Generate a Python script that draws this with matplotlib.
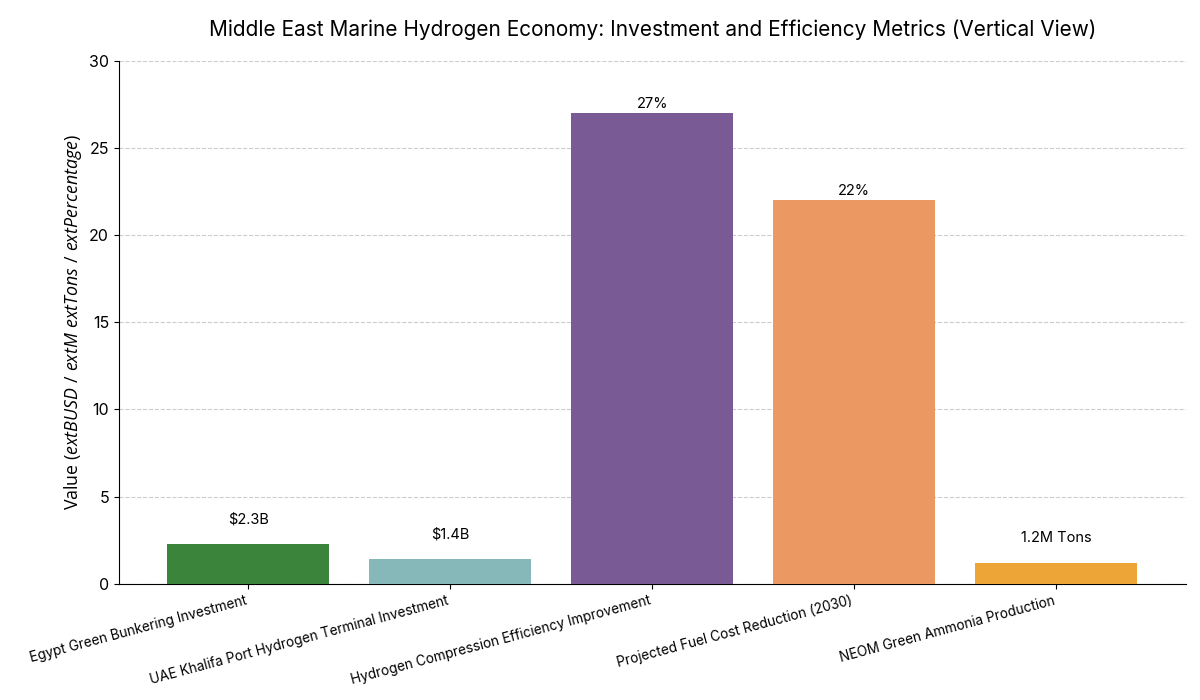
import numpy as np
import matplotlib
matplotlib.use('Agg')
import matplotlib.pyplot as plt

plt.rcParams['font.family'] = ['Inter', 'DejaVu Sans']
plt.rcParams['mathtext.fontset'] = 'custom'
plt.rcParams['mathtext.rm'] = 'Open Sans'
plt.rcParams['mathtext.it'] = 'Open Sans:italic'

categories = ['Egypt Green Bunkering Investment',
              'UAE Khalifa Port Hydrogen Terminal Investment',
              'Hydrogen Compression Efficiency Improvement',
              'Projected Fuel Cost Reduction (2030)',
              'NEOM Green Ammonia Production']
values = [2.3, 1.4, 27, 22, 1.2]
value_labels = ['$2.3B', '$1.4B', '27%', '22%', '1.2M Tons']
label_offsets = [1.0, 1.0, 0.15, 0.15, 1.0]
colors = ['#3a853b', '#86b8ba', '#7a5a94', '#ec9862', '#eca536']

fig, ax = plt.subplots(figsize=(12, 7), dpi=100)
x = np.arange(len(categories))
bars = ax.bar(x, values, width=0.8, color=colors, zorder=3)

for b, lab, off in zip(bars, value_labels, label_offsets):
    ax.text(b.get_x() + b.get_width() / 2, b.get_height() + off, lab.replace('$', r'\$'),
            ha='center', va='bottom', fontsize=10.5)

ax.set_xticks(x)
ax.set_xticklabels(categories, rotation=15, ha='right', fontsize=9.8)
ax.set_ylim(0, 30)
ax.tick_params(axis='y', labelsize=11.5)
ax.set_ylabel(r'Value ($extBUSD\ /\ extM\ extTons\ /\ extPercentage$)',
              fontsize=12.8, family=['Open Sans', 'DejaVu Sans'])
ax.set_title('Middle East Marine Hydrogen Economy: Investment and Efficiency Metrics (Vertical View)',
             fontsize=15, pad=18)
ax.grid(axis='y', linestyle='--', color='#cccccc', linewidth=0.8, zorder=0)
ax.spines['top'].set_visible(False)
ax.spines['right'].set_visible(False)

plt.subplots_adjust(left=0.099, right=0.988, top=0.913, bottom=0.166)
plt.savefig('out.png')
